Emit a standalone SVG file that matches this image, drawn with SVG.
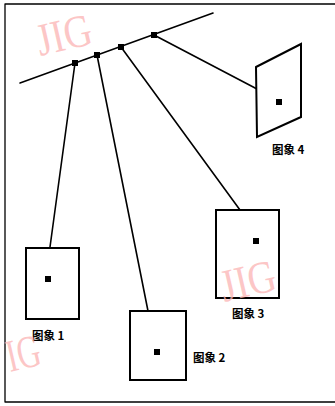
<svg xmlns="http://www.w3.org/2000/svg" width="335" height="406" viewBox="0 0 335 406">
<style>
.ln{stroke:#000;stroke-width:1.6;fill:none;stroke-linecap:round;stroke-linejoin:round}
.box{stroke:#000;stroke-width:2;fill:#fff}
.dot{fill:#000}
.lbl{font-family:"Noto Sans CJK SC","Liberation Sans",sans-serif;font-size:11.5px;font-weight:bold;fill:#000}
.wm{font-family:"Liberation Serif",serif;font-size:46px;fill:#fbb4b4;fill-opacity:0.75}
</style>
<rect width="335" height="406" fill="#fff"/>
<g id="frame">
<path class="ln" d="M335,4 L5,4 L5,402 L335,402" style="stroke-width:1.3"/>
</g>
<g id="connectors">
<line class="ln" x1="20" y1="83" x2="213" y2="13"/>
<line class="ln" x1="75" y1="63" x2="50" y2="247"/>
<line class="ln" x1="97" y1="55" x2="148" y2="311"/>
<line class="ln" x1="121" y1="47" x2="240" y2="210"/>
<line class="ln" x1="154" y1="35" x2="257" y2="89"/>
<rect class="dot" x="72" y="60" width="6" height="6"/>
<rect class="dot" x="94" y="52" width="6" height="6"/>
<rect class="dot" x="118" y="44" width="6" height="6"/>
<rect class="dot" x="151" y="32" width="6" height="6"/>
</g>
<g id="image1">
<rect class="box" x="26" y="248" width="53" height="71"/>
<rect class="dot" x="45" y="276" width="6" height="6"/>
<text class="lbl" x="32" y="340">图象 1</text>
</g>
<g id="image2">
<rect class="box" x="130" y="311" width="56" height="69"/>
<rect class="dot" x="154" y="349" width="6" height="6"/>
<text class="lbl" x="193" y="362">图象 2</text>
</g>
<g id="image3">
<rect class="box" x="216" y="210" width="63" height="88"/>
<rect class="dot" x="253" y="238" width="6" height="6"/>
<text class="lbl" x="232" y="318">图象 3</text>
</g>
<g id="image4">
<path class="box" d="M256,67 L301,44 L301,117 L257,137 Z"/>
<rect class="dot" x="276" y="99" width="6" height="6"/>
<text class="lbl" x="272" y="154">图象 4</text>
</g>
<g id="watermarks">
<text class="wm" transform="translate(40,56) rotate(-13)" textLength="56" lengthAdjust="spacingAndGlyphs">JIG</text>
<text class="wm" transform="translate(224,302) rotate(-13)" textLength="56" lengthAdjust="spacingAndGlyphs">JIG</text>
<text class="wm" transform="translate(10,372) rotate(-13)" textLength="34" lengthAdjust="spacingAndGlyphs">IG</text>
</g>
</svg>
